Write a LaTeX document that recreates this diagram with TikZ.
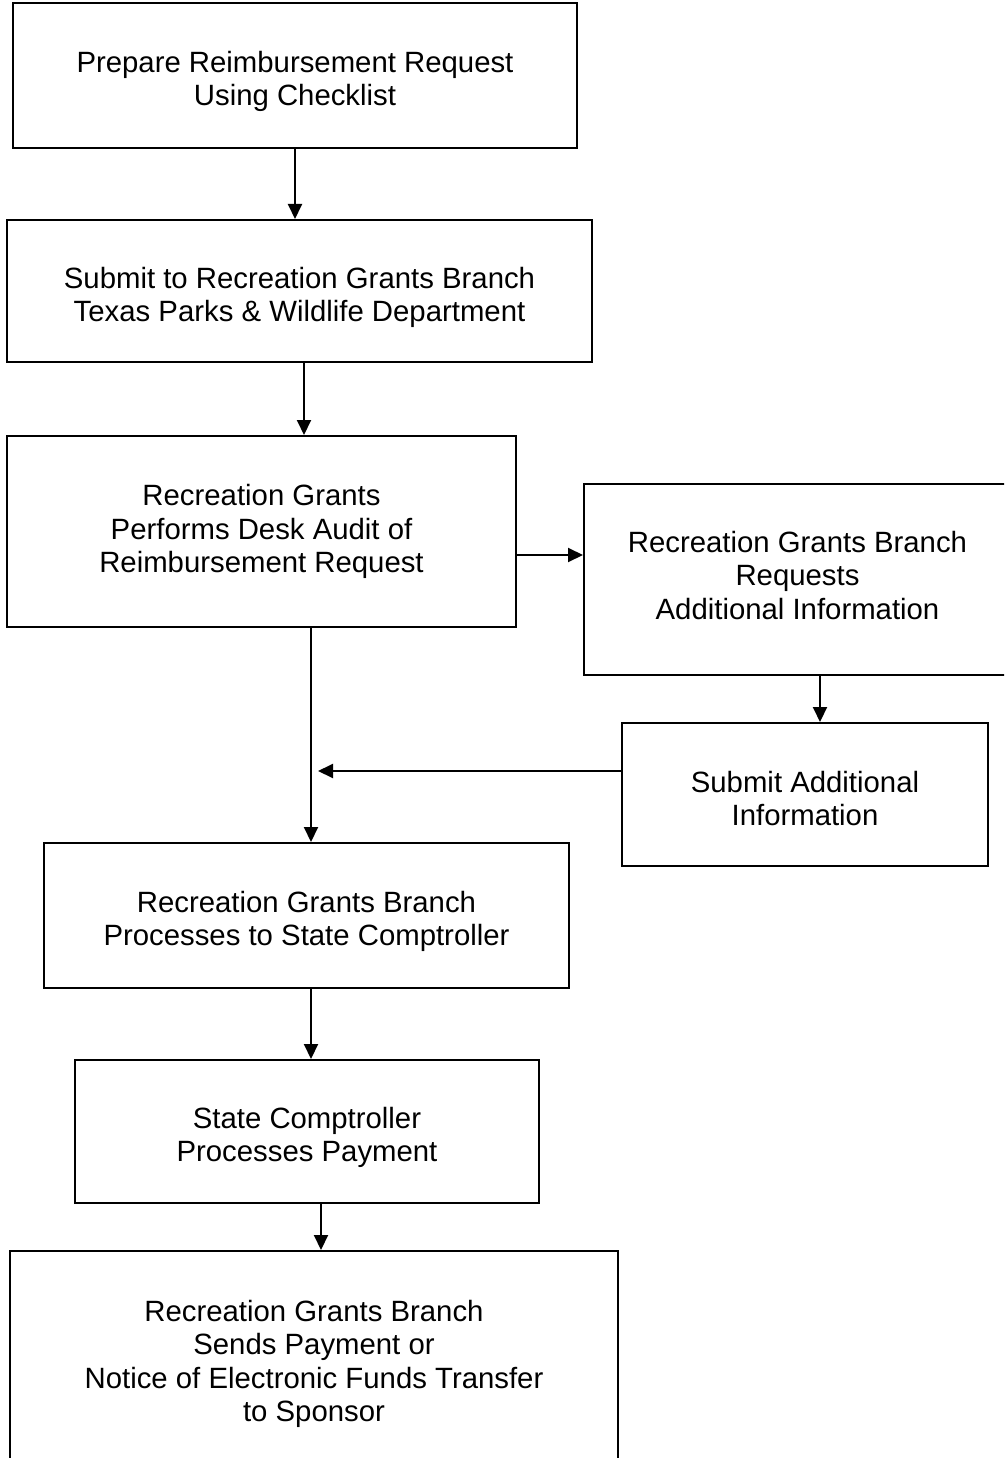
\documentclass[tikz,border=0pt]{standalone}
\usepackage{fontspec}
\setmainfont{Liberation Sans}
\usetikzlibrary{arrows.meta}
\tikzset{
  flowbox/.style={draw, line width=1.5pt, inner sep=0pt},
  boxtext/.style={align=center, inner sep=0pt,
    font=\fontsize{22pt}{25pt}\selectfont},
  flowarrow/.style={line width=1.5pt, -{Triangle[length=11.25pt,width=10.5pt]}},
}
\begin{document}
\begin{tikzpicture}[x=0.75pt,y=-0.75pt]
\useasboundingbox (0,0) rectangle (1004,1458);
\clip (0,0) rectangle (1004,1458);
\fill[white] (0,0) rectangle (1004,1458);

\node[flowbox, minimum width=423pt, minimum height=108.75pt] (b1) at (295,75.5) {};
\node[flowbox, minimum width=438.75pt, minimum height=106.5pt] (b2) at (299.5,291) {};
\node[flowbox, minimum width=381.75pt, minimum height=143.25pt] (b3) at (261.5,531.5) {};
\node[flowbox, minimum width=320.25pt, minimum height=143.25pt] (b4) at (797.5,579.5) {};
\node[flowbox, minimum width=274.5pt, minimum height=107.25pt] (b5) at (805,794.5) {};
\node[flowbox, minimum width=393.75pt, minimum height=108.75pt] (b6) at (306.5,915.5) {};
\node[flowbox, minimum width=348pt, minimum height=107.25pt] (b7) at (307,1131.5) {};
\node[flowbox, minimum width=456pt, minimum height=172.5pt] (b8) at (314,1366) {};

\node[boxtext] (t1) at ([yshift=-4.5pt]b1.center) {Prepare Reimbursement Request\\Using Checklist};
\node[boxtext] (t2) at ([yshift=-5pt]b2.center) {Submit to Recreation Grants Branch\\Texas Parks \& Wildlife Department};
\node[boxtext] (t3) at (b3.center) {Recreation Grants\\Performs Desk Audit of\\Reimbursement Request};
\node[boxtext] (t4) at ([yshift=3pt]b4.center) {Recreation Grants Branch\\Requests\\Additional Information};
\node[boxtext] (t5) at ([yshift=-3pt]b5.center) {Submit Additional\\Information};
\node[boxtext] (t6) at ([yshift=-4.5pt]b6.center) {Recreation Grants Branch\\Processes to State Comptroller};
\node[boxtext] (t7) at ([yshift=-4.5pt]b7.center) {State Comptroller\\Processes Payment};
\node[boxtext] (t8) at ([yshift=1.5pt]b8.center) {Recreation Grants Branch\\Sends Payment or\\Notice of Electronic Funds Transfer\\to Sponsor};

\coordinate (x12) at (295,0);
\coordinate (x23) at (304,0);
\coordinate (y34) at (0,555);
\coordinate (x45) at (820,0);
\coordinate (vx) at (311,0);
\coordinate (j) at (318,771);
\coordinate (x78) at (321,0);

\draw[flowarrow] (b1.south -| x12) -- (b2.north -| x12);
\draw[flowarrow] (b2.south -| x23) -- (b3.north -| x23);
\draw[flowarrow] (b3.east |- y34) -- (b4.west |- y34);
\draw[flowarrow] (b4.south -| x45) -- (b5.north -| x45);
\draw[flowarrow] (b5.west |- j) -- (j);
\draw[flowarrow] (b3.south -| vx) -- (b6.north -| vx);
\draw[flowarrow] (b6.south -| vx) -- (b7.north -| vx);
\draw[flowarrow] (b7.south -| x78) -- (b8.north -| x78);
\end{tikzpicture}
\end{document}
